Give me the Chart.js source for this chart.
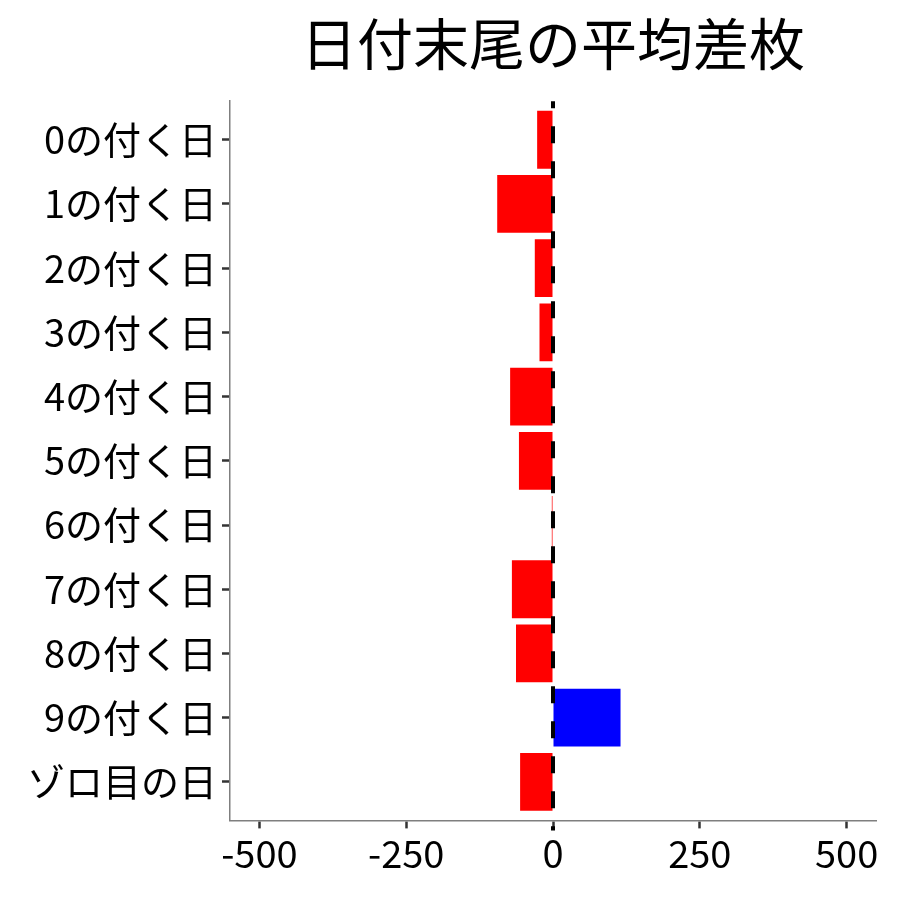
<!DOCTYPE html>
<html>
<head>
<meta charset="utf-8">
<script src="https://cdn.jsdelivr.net/npm/chart.js@4.4.1/dist/chart.umd.min.js"></script>
<style>
html,body{margin:0;padding:0;background:#fff;}
#wrap{width:900px;height:900px;}
</style>
</head>
<body>
<div id="wrap"><canvas id="c" width="900" height="900"></canvas></div>
<script>
const categories = ["0の付く日","1の付く日","2の付く日","3の付く日","4の付く日","5の付く日","6の付く日","7の付く日","8の付く日","9の付く日","ゾロ目の日"];
const avgDiff = [-27, -95, -31, -23, -73, -58, -2, -70, -63, 115, -56];
const xTickValues = [-500, -250, 0, 250, 500];
const titleText = "日付末尾の平均差枚";

const FONT = '"Noto Sans CJK JP", "Noto Sans", sans-serif';

const points = avgDiff.map((v, i) => ({x: v, y: i}));
const barColors = avgDiff.map(v => v >= 0 ? '#0000FF' : '#FF0000');

const zeroLine = {
  id: 'zeroLine',
  afterDatasetsDraw(chart) {
    const ctx = chart.ctx;
    const xs = chart.scales.x;
    const area = chart.chartArea;
    const px = xs.getPixelForValue(0);
    ctx.save();
    ctx.strokeStyle = '#000';
    ctx.lineWidth = 4;
    ctx.setLineDash([17, 18]);
    ctx.lineDashOffset = 10;
    ctx.beginPath();
    ctx.moveTo(px, area.top);
    ctx.lineTo(px, area.bottom + 10);
    ctx.stroke();
    ctx.restore();
  }
};

new Chart(document.getElementById('c'), {
  type: 'bar',
  data: {
    datasets: [{
      data: points,
      backgroundColor: barColors,
      borderWidth: 0,
      barPercentage: 0.9,
      categoryPercentage: 1.0
    }]
  },
  options: {
    indexAxis: 'y',
    responsive: false,
    animation: false,
    devicePixelRatio: 1,
    layout: { padding: { left: 22, right: 24, top: 10, bottom: 22 } },
    plugins: {
      legend: { display: false },
      tooltip: { enabled: false },
      title: {
        display: true,
        text: titleText,
        fullSize: false,
        color: '#000',
        font: { family: FONT, size: 56, weight: 'normal' },
        padding: { top: 0, bottom: 24 }
      }
    },
    scales: {
      x: {
        type: 'linear',
        min: -550,
        max: 550,
        offset: false,
        afterBuildTicks(scale) { scale.ticks = xTickValues.map(v => ({value: v})); },
        grid: { offset: false, drawOnChartArea: false, drawTicks: true, tickLength: 8, tickColor: '#333', tickWidth: 2.5 },
        border: { display: true, color: '#7f7f7f', width: 1.5 },
        ticks: { color: '#000', font: { family: FONT, size: 38 }, padding: 2, maxRotation: 0 }
      },
      y: {
        type: 'linear',
        reverse: true,
        min: -0.6,
        max: 10.6,
        offset: false,
        afterBuildTicks(scale) { scale.ticks = categories.map((c, i) => ({value: i})); },
        grid: { offset: false, drawOnChartArea: false, drawTicks: true, tickLength: 8, tickColor: '#333', tickWidth: 2.5 },
        border: { display: true, color: '#7f7f7f', width: 1.5 },
        ticks: {
          color: '#000',
          font: { family: FONT, size: 38 },
          padding: 5,
          callback: (v) => categories[v]
        }
      }
    }
  },
  plugins: [zeroLine]
});
</script>
</body>
</html>
